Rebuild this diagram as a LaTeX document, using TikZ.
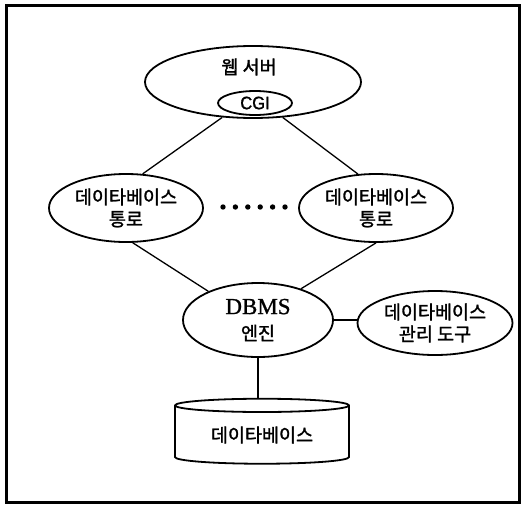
\documentclass[tikz,border=0pt]{standalone}
\usepackage{fontspec}
\setmainfont{Liberation Serif}
\newfontfamily\krfont[FakeBold=1.6]{Noto Sans CJK KR}
\newfontfamily\cgifont[FakeBold=1.2,FakeStretch=0.92]{Liberation Sans}
\newfontfamily\dbmsfont[FakeBold=1.0]{Liberation Serif}
\usetikzlibrary{shapes.geometric}
\begin{document}
\begin{tikzpicture}[x=1pt,y=-1pt,
  bub/.style={draw, ellipse, line width=1.8pt, inner sep=0pt},
  link/.style={line width=1.3pt},
  kt/.style={font=\krfont\fontsize{18.5}{22}\selectfont, align=center},
  dbdisk/.style={draw, cylinder, shape border rotate=90, aspect=0.13,
    line width=1.8pt, inner sep=0pt}]
\useasboundingbox (0,0) rectangle (526,506);
% outer frame
\draw[line width=3pt] (6,5) rectangle (519,502);

% web server with its CGI module
\node[bub, minimum width=216, minimum height=72] (web) at (253,82) {};
\node[kt] (webtitle) at (249,67) {웹 서버};
\node[bub, minimum width=74, minimum height=24,
  font=\cgifont\fontsize{18}{16}\selectfont] (cgi) at (255,103) {CGI};

% database gateways
\node[bub, minimum width=154, minimum height=68, kt] (gwL) at (126,208)
  {데이타베이스\\통로};
\node[bub, minimum width=154, minimum height=68, kt] (gwR) at (376,208)
  {데이타베이스\\통로};
\foreach \i in {0,...,5}
  \fill (223+\i*12.4,207) circle (2.7);

% DBMS engine and management tool
\node[bub, minimum width=150, minimum height=74, align=center,
  font=\dbmsfont\fontsize{23}{26}\selectfont] (dbms) at (258,320)
  {DBMS\\{\krfont\fontsize{18.5}{18}\selectfont 엔진}};
\node[bub, minimum width=155, minimum height=64, kt] (tool) at (435,323)
  {데이타베이스\\관리 도구};

% database store
\node[dbdisk, minimum width=174, minimum height=65, kt] (db) at (262,435)
  {데이타베이스};

% connectors
\draw[link] (web.-131) -- (gwL.64);
\draw[link] (web.-50) -- (gwR.118);
\draw[link] (gwL.-79) -- (dbms.150);
\draw[link] (gwR.-90) -- (dbms.36);
\draw[link] (dbms.east) -- (dbms.east -| tool.west);
\draw[link] (dbms.south) -- (dbms.south |- db.north);
\end{tikzpicture}
\end{document}
